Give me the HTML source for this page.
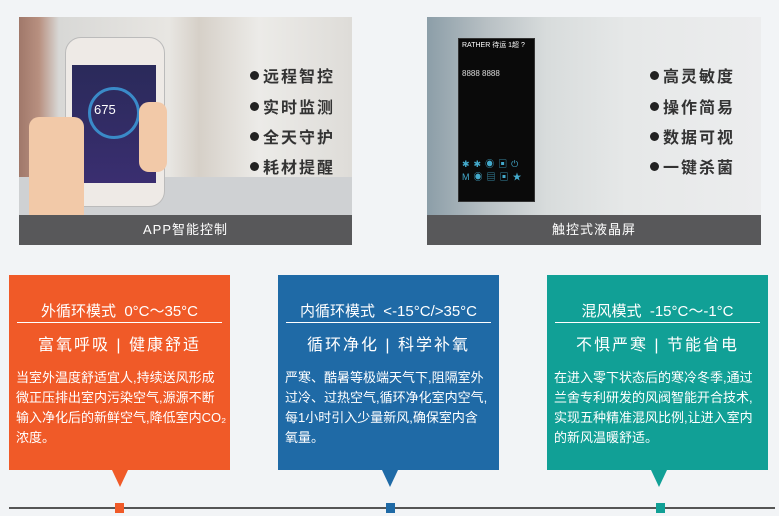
<!DOCTYPE html>
<html><head><meta charset="utf-8"><style>
body{margin:0;width:779px;height:516px;background:#f2f4f6;position:relative;overflow:hidden;font-family:"Liberation Sans","Noto Sans CJK SC",sans-serif}
.a{position:absolute}
.img{position:absolute;top:17px;height:198px;overflow:hidden}
.cap{position:absolute;top:215px;height:30px;background:#58585a;color:#fff;font-size:13px;line-height:30px;text-align:center;letter-spacing:1px}
.pt{position:absolute;font-size:16px;font-weight:bold;color:#333;letter-spacing:2px}
.pt:before{content:"";display:inline-block;width:9px;height:9px;border-radius:50%;background:#222;margin-right:4px;vertical-align:2px}
.box{position:absolute;top:275px;width:221px;height:195px;color:#fff}
.box h3{margin:0;position:absolute;top:25px;left:0;right:0;text-align:center;font-size:15px;font-weight:normal}
.box .ln{position:absolute;top:47px;left:8px;right:8px;height:1px;background:#fff}
.box h4{margin:0;position:absolute;top:56px;left:0;right:0;text-align:center;font-size:16px;font-weight:normal;letter-spacing:2px}
.box p{margin:0;position:absolute;top:93px;left:7px;font-size:13px;line-height:20px;white-space:nowrap}
.tri{position:absolute;top:470px;width:0;height:0;border-left:8px solid transparent;border-right:8px solid transparent;border-top:17px solid}
.mk{position:absolute;top:503px;width:9px;height:10px}
</style></head><body>
<div class="img" style="left:19px;width:333px;background:linear-gradient(90deg,#a0786a 0,#b89080 20px,#d8d8d6 40px,#e8e6e2 150px,#d6d0c8 180px,#ecebe8 240px,#dedcd8 333px)">
 <div class="a" style="left:0;top:160px;width:333px;height:38px;background:#cfd1d3"></div>
 <div class="a" style="left:46px;top:20px;width:98px;height:168px;border-radius:16px;background:#eeeae6;border:1px solid #bbb"></div>
 <div class="a" style="left:53px;top:48px;width:84px;height:118px;background:linear-gradient(#2a2a5a,#3a2e70)"></div>
 <div class="a" style="left:69px;top:70px;width:46px;height:46px;border-radius:50%;border:3px solid #3a8ac8"></div>
 <div class="a" style="left:75px;top:85px;color:#fff;font-size:13px">675</div>
 <div class="a" style="left:10px;top:100px;width:55px;height:98px;background:#f2c9a8;border-radius:10px 10px 0 0"></div>
 <div class="a" style="left:120px;top:85px;width:28px;height:70px;background:#f2c9a8;border-radius:10px"></div>
</div>
<div class="pt" style="left:250px;top:63px">远程智控</div>
<div class="pt" style="left:250px;top:94px">实时监测</div>
<div class="pt" style="left:250px;top:124px">全天守护</div>
<div class="pt" style="left:250px;top:154px">耗材提醒</div>
<div class="cap" style="left:19px;width:333px">APP智能控制</div>

<div class="img" style="left:427px;width:334px;background:linear-gradient(90deg,#8c9ea8 0,#b8c0c4 60px,#d8dcdc 120px,#e6e8e8 200px,#ecedee 334px)">
 <div class="a" style="left:31px;top:21px;width:75px;height:162px;background:#0a0a0a;border:1px solid #333"></div>
 <div class="a" style="left:35px;top:23px;color:#fff;font-size:7px">RATHER 待运 1超 ?</div>
 <div class="a" style="left:35px;top:52px;color:#ddd;font-size:8px">8888 8888</div>
 <div class="a" style="left:35px;top:140px;width:67px;height:30px;color:#4ac;font-size:9px;letter-spacing:4px">✱✱◉▣⏻ M◉▤▣★</div>
</div>
<div class="pt" style="left:650px;top:63px">高灵敏度</div>
<div class="pt" style="left:650px;top:94px">操作简易</div>
<div class="pt" style="left:650px;top:124px">数据可视</div>
<div class="pt" style="left:650px;top:154px">一键杀菌</div>
<div class="cap" style="left:427px;width:334px">触控式液晶屏</div>

<div class="box" style="left:9px;background:#f05a28">
 <h3>外循环模式&nbsp; 0°C～35°C</h3><div class="ln"></div>
 <h4>富氧呼吸 | 健康舒适</h4>
 <p>当室外温度舒适宜人,持续送风形成<br>微正压排出室内污染空气,源源不断<br>输入净化后的新鲜空气,降低室内CO₂<br>浓度。</p>
</div>
<div class="tri" style="left:112px;border-top-color:#f05a28"></div>
<div class="box" style="left:278px;background:#1f6aa6">
 <h3>内循环模式&nbsp; &lt;-15°C/&gt;35°C</h3><div class="ln"></div>
 <h4>循环净化 | 科学补氧</h4>
 <p>严寒、酷暑等极端天气下,阻隔室外<br>过冷、过热空气,循环净化室内空气,<br>每1小时引入少量新风,确保室内含<br>氧量。</p>
</div>
<div class="tri" style="left:382px;border-top-color:#1f6aa6"></div>
<div class="box" style="left:547px;background:#11a096">
 <h3>混风模式&nbsp; -15°C～-1°C</h3><div class="ln"></div>
 <h4>不惧严寒 | 节能省电</h4>
 <p>在进入零下状态后的寒冷冬季,通过<br>兰舍专利研发的风阀智能开合技术,<br>实现五种精准混风比例,让进入室内<br>的新风温暖舒适。</p>
</div>
<div class="tri" style="left:651px;border-top-color:#11a096"></div>

<div class="a" style="left:9px;top:507px;width:766px;height:2px;background:#555"></div>
<div class="mk" style="left:115px;background:#f05a28"></div>
<div class="mk" style="left:386px;background:#1f6aa6"></div>
<div class="mk" style="left:656px;background:#11a096"></div>
</body></html>
